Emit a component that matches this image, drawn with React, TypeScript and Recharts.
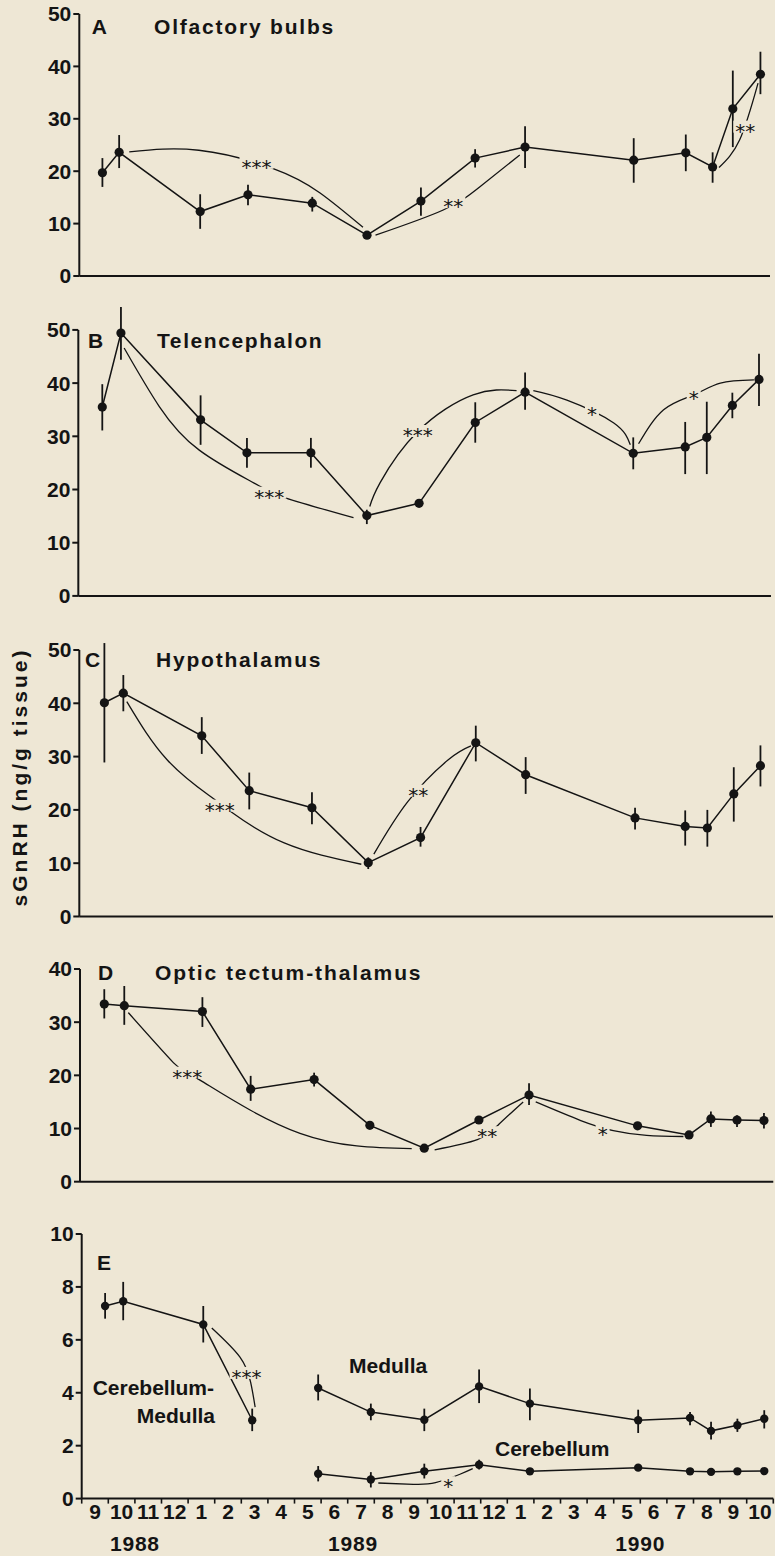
import React from "react";
import { LineChart, Line, XAxis, YAxis, ErrorBar, ReferenceLine } from "recharts";

const BG = "#eee7d5";
const INK = "#141414";
const SANS = "'Liberation Sans', Arial, Helvetica, sans-serif";
const STAR_FONT = "'DejaVu Sans', sans-serif";

// x is months since 1 Sep 1988 (0) .. end of Oct 1990 (26)
const monthTicks = [0, 1, 2, 3, 4, 5, 6, 7, 8, 9, 10, 11, 12, 13, 14, 15, 16, 17, 18, 19, 20, 21, 22, 23, 24, 25, 26];
const monthLabels = ["9", "10", "11", "12", "1", "2", "3", "4", "5", "6", "7", "8", "9", "10", "11", "12", "1", "2", "3", "4", "5", "6", "7", "8", "9", "10"];
const yearTicks = [2.0, 10.2, 21.0];
const yearLabels = ["1988", "1989", "1990"];

// A  Olfactory bulbs
const monthsA = [0.87, 1.5, 4.55, 6.35, 8.77, 10.83, 12.86, 14.9, 16.78, 20.87, 22.83, 23.84, 24.6, 25.64];
const valuesA = [19.7, 23.6, 12.3, 15.5, 13.9, 7.8, 14.3, 22.5, 24.6, 22.1, 23.5, 20.8, 31.9, 38.5];
const lowA = [17.0, 20.6, 9.0, 13.5, 12.3, 7.8, 11.5, 20.7, 20.6, 17.8, 20.0, 17.8, 24.6, 34.7];
const highA = [22.5, 26.9, 15.6, 17.4, 15.1, 7.8, 16.9, 24.2, 28.6, 26.3, 27.0, 23.6, 39.2, 42.8];

// B  Telencephalon
const monthsB = [0.9, 1.6, 4.59, 6.33, 8.73, 10.83, 12.79, 14.9, 16.77, 20.83, 22.78, 23.59, 24.55, 25.55];
const valuesB = [35.5, 49.4, 33.1, 26.9, 26.9, 15.1, 17.4, 32.6, 38.3, 26.8, 28.0, 29.8, 35.8, 40.7];
const lowB = [31.1, 44.4, 28.4, 24.1, 24.1, 13.5, 17.4, 28.8, 35.0, 23.8, 22.9, 22.9, 33.4, 35.7];
const highB = [39.8, 54.3, 37.7, 29.7, 29.7, 16.2, 17.4, 36.4, 42.0, 29.8, 32.7, 36.5, 38.2, 45.5];

// C  Hypothalamus
const monthsC = [0.94, 1.65, 4.59, 6.37, 8.72, 10.83, 12.79, 14.86, 16.73, 20.83, 22.71, 23.54, 24.53, 25.53];
const valuesC = [40.1, 41.9, 33.9, 23.6, 20.4, 10.1, 14.8, 32.6, 26.6, 18.5, 16.9, 16.6, 23.0, 28.3];
const lowC = [28.9, 38.5, 30.5, 20.1, 17.3, 8.9, 13.1, 29.1, 23.0, 16.3, 13.3, 13.1, 17.8, 24.4];
const highC = [51.3, 45.3, 37.4, 27.0, 23.3, 11.1, 16.8, 35.8, 29.9, 20.4, 19.9, 20.0, 28.0, 32.1];

// D  Optic tectum-thalamus
const monthsD = [0.91, 1.66, 4.59, 6.4, 8.78, 10.87, 12.91, 14.96, 16.84, 20.91, 22.84, 23.66, 24.64, 25.65];
const valuesD = [33.4, 33.1, 32.0, 17.4, 19.2, 10.6, 6.3, 11.6, 16.3, 10.5, 8.8, 11.8, 11.6, 11.5];
const lowD = [30.7, 29.5, 29.1, 15.2, 17.9, 10.6, 6.3, 11.6, 14.4, 10.5, 8.8, 10.3, 10.3, 10.0];
const highD = [36.2, 36.8, 34.7, 19.9, 20.5, 10.6, 6.3, 11.6, 18.5, 10.5, 8.8, 13.2, 12.5, 12.9];

// E  Cerebellum-Medulla, Medulla, Cerebellum
const monthsCM = [0.88, 1.56, 4.57, 6.41];
const valuesCM = [7.28, 7.46, 6.58, 2.96];
const lowCM = [6.8, 6.74, 5.9, 2.55];
const highCM = [7.77, 8.19, 7.28, 3.4];

const monthsE = [8.89, 10.87, 12.88, 14.94, 16.85, 20.92, 22.87, 23.66, 24.65, 25.66];
const valuesMed = [4.18, 3.27, 2.98, 4.24, 3.59, 2.96, 3.05, 2.56, 2.77, 3.02];
const lowMed = [3.71, 2.96, 2.55, 3.61, 2.96, 2.48, 2.77, 2.23, 2.52, 2.65];
const highMed = [4.69, 3.59, 3.4, 4.88, 4.16, 3.36, 3.27, 2.9, 3.02, 3.34];
const valuesCer = [0.94, 0.72, 1.03, 1.28, 1.03, 1.17, 1.03, 1.01, 1.03, 1.04];
const lowCer = [0.65, 0.42, 0.76, 1.1, 1.03, 1.17, 1.03, 1.01, 1.03, 1.04];
const highCer = [1.23, 1.0, 1.32, 1.47, 1.03, 1.17, 1.03, 1.01, 1.03, 1.04];

// significance brackets, [month, value] along each curve
const arcsA = [
  [[1.88, 23.7], [4.5, 24.0], [7.3, 20.5], [9.05, 15.9], [10.68, 9.3]],
  [[11.15, 7.8], [13.7, 12.6], [15.07, 17.0], [16.58, 23.1]],
  [[24.08, 20.7], [24.86, 26.0], [25.55, 36.8]],
];
const starsA = [
  { t: 6.67, v: 21.6, s: "***" },
  { t: 14.08, v: 14.1, s: "**" },
  { t: 25.07, v: 28.5, s: "**" },
];
const arcsB = [
  [[1.72, 46.6], [3.04, 35.6], [4.54, 27.4], [6.6, 21.2], [7.8, 18.4], [10.33, 14.7]],
  [[10.94, 16.8], [11.33, 21.3], [12.74, 30.9], [14.82, 37.8], [16.45, 38.6]],
  [[17.08, 38.6], [18.34, 36.8], [20.1, 32.5], [20.72, 28.4]],
  [[21.03, 28.6], [21.97, 35.0], [23.1, 37.8], [24.1, 40.0], [25.36, 40.6]],
];
const starsB = [
  { t: 7.17, v: 19.4, s: "***" },
  { t: 12.74, v: 31.0, s: "***" },
  { t: 19.28, v: 35.0, s: "*" },
  { t: 23.1, v: 37.9, s: "*" },
];
const arcsC = [
  [[1.78, 40.3], [3.29, 29.4], [4.92, 22.5], [5.67, 19.7], [7.68, 13.8], [10.57, 9.8]],
  [[11.04, 11.7], [12.32, 21.6], [13.83, 29.4], [14.68, 32.0]],
];
const starsC = [
  { t: 5.26, v: 20.8, s: "***" },
  { t: 12.7, v: 23.6, s: "**" },
];
const arcsD = [
  [[1.81, 31.8], [3.5, 22.4], [4.5, 19.1], [8.25, 9.1], [12.44, 6.2]],
  [[13.3, 6.0], [14.9, 7.9], [15.71, 10.8], [16.62, 15.0]],
  [[17.09, 15.0], [18.78, 11.5], [20.0, 9.6], [21.25, 8.7], [22.63, 8.5]],
];
const starsD = [
  { t: 4.02, v: 20.5, s: "***" },
  { t: 15.27, v: 9.3, s: "**" },
  { t: 19.6, v: 9.7, s: "*" },
];
const arcsE = [
  [[4.89, 6.45], [5.95, 5.35], [6.35, 4.4], [6.52, 3.46]],
  [[11.15, 0.59], [12.47, 0.54], [13.3, 0.6], [14.22, 0.92], [14.7, 1.13]],
];
const starsE = [
  { t: 6.2, v: 4.75, s: "***" },
  { t: 13.78, v: 0.62, s: "*" },
];

type Row = { t: number; v: number; err: number[] };
type Star = { t: number; v: number; s: string };

const rows = (months: number[], values: number[], low: number[], high: number[]): Row[] =>
  months.map((t, i) => ({ t, v: values[i], err: [values[i] - low[i], high[i] - values[i]] }));
const pts = (arc: number[][]) => arc.map(([t, v]) => ({ t, v }));

const StarDot = (p: any) => {
  if (p.cx == null || p.cy == null) return <g key={p.key} />;
  const s: string = p.payload.s;
  const w = s.length * 10 + 4;
  return (
    <g key={p.key}>
      <rect x={p.cx - w / 2} y={p.cy - 6} width={w} height={12} fill={BG} />
      <text x={p.cx} y={p.cy + 11} textAnchor="middle" fontFamily={STAR_FONT} fontSize={20} fill={INK}>
        {s}
      </text>
    </g>
  );
};

interface PanelProps {
  left: number;
  right: number;
  top: number;
  bottom: number;
  yMax: number;
  yExt: number;
  yTicks: number[];
  series: Row[][];
  arcs: number[][][];
  stars: Star[];
  dotR: number;
  labels?: boolean;
}

const PAD = 14;

function Panel({ left, right, top, bottom, yMax, yExt, yTicks, series, arcs, stars, dotR, labels }: PanelProps) {
  const unit = (bottom - top) / yMax;
  const plotTop = bottom - yExt * unit;
  const axisH = labels ? 60 : 10;
  const height = PAD + bottom - plotTop + axisH;
  const monthPx = (right - left) / 26;

  // month names sit between tick marks; the year names hang below them
  const monthTick = (p: any) => {
    const i = p.payload.value;
    if (i >= monthLabels.length) return <g />;
    return (
      <g>
        <text x={p.x + monthPx / 2} y={p.y + 13} textAnchor="middle" fontFamily={SANS} fontWeight={700} fontSize={21} fill={INK}>
          {monthLabels[i]}
        </text>
        {yearTicks.map((yt, k) =>
          Math.floor(yt) === i ? (
            <text key={k} x={p.x + (yt - i) * monthPx} y={p.y + 45} textAnchor="middle" fontFamily={SANS} fontWeight={700} fontSize={21} letterSpacing={0.8} fill={INK}>
              {yearLabels[k]}
            </text>
          ) : null
        )}
      </g>
    );
  };

  return (
    <div style={{ position: "absolute", left: 0, top: plotTop - PAD, width: 775, height }}>
      <LineChart width={775} height={height} margin={{ top: PAD, right: 775 - right, bottom: 0, left: 0 }}>
        <XAxis
          type="number"
          dataKey="t"
          domain={[0, 26]}
          ticks={monthTicks}
          interval={0}
          height={axisH}
          axisLine={{ stroke: INK, strokeWidth: 2 }}
          tickLine={{ stroke: INK, strokeWidth: 1.6 }}
          tickSize={5}
          tickMargin={2}
          tick={labels ? monthTick : false}
        />
        <YAxis
          type="number"
          domain={[0, yExt]}
          ticks={yTicks}
          interval={0}
          width={left}
          axisLine={false}
          tickLine={{ stroke: INK, strokeWidth: 2 }}
          tickSize={6}
          tickMargin={2}
          tick={{ fill: INK, fontSize: 21, fontWeight: 700, fontFamily: SANS }}
        />
        <ReferenceLine segment={[{ x: 0, y: 0 }, { x: 0, y: yMax }]} stroke={INK} strokeWidth={2} />
        {arcs.map((arc, i) => (
          <Line
            key={"arc" + i}
            data={pts(arc)}
            dataKey="v"
            type="natural"
            stroke={INK}
            strokeWidth={1.3}
            dot={false}
            activeDot={false}
            isAnimationActive={false}
          />
        ))}
        <Line
          data={stars}
          dataKey="v"
          stroke="none"
          dot={StarDot}
          activeDot={false}
          isAnimationActive={false}
        />
        {series.map((data, i) => (
          <Line
            key={"s" + i}
            data={data}
            dataKey="v"
            type="linear"
            stroke={INK}
            strokeWidth={1.5}
            dot={{ r: dotR, fill: INK, stroke: "none" }}
            activeDot={false}
            isAnimationActive={false}
          >
            <ErrorBar dataKey="err" direction="y" width={0} stroke={INK} strokeWidth={1.8} isAnimationActive={false} />
          </Line>
        ))}
      </LineChart>
    </div>
  );
}

const T = (props: { x: number; y: number; children: string; ls?: number; anchor?: string }) => (
  <text
    x={props.x}
    y={props.y}
    textAnchor={props.anchor || "start"}
    fontFamily={SANS}
    fontWeight={700}
    fontSize={21}
    letterSpacing={props.ls || 0}
    fill={INK}
  >
    {props.children}
  </text>
);

export default function App() {
  return (
    <div style={{ position: "absolute", left: 0, top: 0, width: 775, height: 1556, background: BG, overflow: "hidden" }}>
      <Panel left={79.3} right={770} top={14} bottom={276} yMax={50} yExt={50} yTicks={[0, 10, 20, 30, 40, 50]}
        series={[rows(monthsA, valuesA, lowA, highA)]} arcs={arcsA} stars={starsA} dotR={4.6} />
      <Panel left={78.3} right={771} top={330} bottom={596} yMax={50} yExt={56} yTicks={[0, 10, 20, 30, 40, 50]}
        series={[rows(monthsB, valuesB, lowB, highB)]} arcs={arcsB} stars={starsB} dotR={4.6} />
      <Panel left={79.3} right={773} top={650} bottom={916.5} yMax={50} yExt={53} yTicks={[0, 10, 20, 30, 40, 50]}
        series={[rows(monthsC, valuesC, lowC, highC)]} arcs={arcsC} stars={starsC} dotR={4.6} />
      <Panel left={80} right={773.3} top={969} bottom={1181.7} yMax={40} yExt={40} yTicks={[0, 10, 20, 30, 40]}
        series={[rows(monthsD, valuesD, lowD, highD)]} arcs={arcsD} stars={starsD} dotR={4.6} />
      <Panel left={81.7} right={773.3} top={1233.7} bottom={1498.3} yMax={10} yExt={10} yTicks={[0, 2, 4, 6, 8, 10]}
        series={[rows(monthsCM, valuesCM, lowCM, highCM), rows(monthsE, valuesMed, lowMed, highMed), rows(monthsE, valuesCer, lowCer, highCer)]}
        arcs={arcsE} stars={starsE} dotR={4.2} labels />

      <svg width={775} height={1556} style={{ position: "absolute", left: 0, top: 0, pointerEvents: "none" }}>
        <T x={91.7} y={34.3}>A</T>
        <T x={154} y={34.3} ls={1.8}>Olfactory bulbs</T>
        <T x={88} y={348}>B</T>
        <T x={157} y={348} ls={1.6}>Telencephalon</T>
        <T x={85} y={666.7}>C</T>
        <T x={156} y={666.7} ls={1.8}>Hypothalamus</T>
        <T x={98} y={980}>D</T>
        <T x={155} y={980} ls={1.9}>Optic tectum-thalamus</T>
        <T x={97} y={1270}>E</T>
        <T x={214} y={1395} anchor="end">Cerebellum-</T>
        <T x={215} y={1423} anchor="end">Medulla</T>
        <T x={349} y={1373}>Medulla</T>
        <T x={495} y={1455.7}>Cerebellum</T>
        <text
          x={0}
          y={0}
          transform="translate(26.5 777) rotate(-90)"
          textAnchor="middle"
          fontFamily={SANS}
          fontWeight={700}
          fontSize={21}
          letterSpacing={3}
          fill={INK}
        >
          sGnRH (ng/g tissue)
        </text>
      </svg>
    </div>
  );
}
